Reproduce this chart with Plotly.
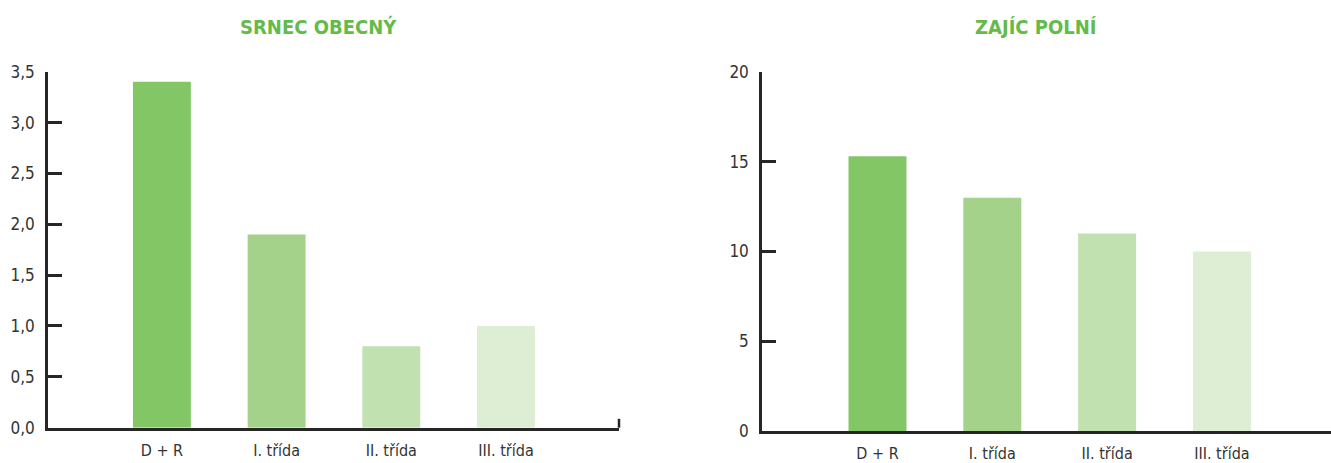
import plotly.graph_objects as go

# Hunting bag by category of hunting ground
categories = ["D + R", "I. třída", "II. třída", "III. třída"]
srnec_values = [3.4, 1.9, 0.8, 1.0]
zajic_values = [15.3, 13.0, 11.0, 10.0]
bar_colors = ["#82c666", "#a4d28a", "#c2e1b0", "#ddeed4"]

titles = ["SRNEC OBECNÝ", "ZAJÍC POLNÍ"]
srnec_ticks = [0, 0.5, 1.0, 1.5, 2.0, 2.5, 3.0, 3.5]
zajic_ticks = [0, 5, 10, 15, 20]

FONT = "Liberation Sans Narrow, DejaVu Sans Condensed, Arial Narrow, sans-serif"
AXIS_COLOR = "#262626"
TITLE_COLOR = "#64bb4a"

fig = go.Figure()
fig.add_trace(go.Bar(x=categories, y=srnec_values, marker=dict(color=bar_colors, line_width=0),
                     xaxis="x", yaxis="y", showlegend=False))
fig.add_trace(go.Bar(x=categories, y=zajic_values, marker=dict(color=bar_colors, line_width=0),
                     xaxis="x2", yaxis="y2", showlegend=False))

W, H = 1331, 463

def xdom(a, b):
    return [a / W, b / W]

def ydom(bottom_px, top_px):
    return [(H - bottom_px) / H, (H - top_px) / H]

common_x = dict(showline=True, linecolor=AXIS_COLOR, linewidth=2.5, ticks="", showgrid=False,
                zeroline=False, tickfont=dict(family=FONT, size=16, color="#333333"),
                ticklabelstandoff=6, fixedrange=True, automargin=False)
common_y = dict(showline=True, linecolor=AXIS_COLOR, linewidth=2.5, ticks="inside", ticklen=14,
                tickwidth=2.5, tickcolor=AXIS_COLOR, showgrid=False, zeroline=False,
                tickfont=dict(family=FONT, size=17, color="#333333"), ticklabelstandoff=7,
                fixedrange=True, automargin=False)

fig.update_layout(
    template="none",
    width=W, height=H,
    margin=dict(l=0, r=0, t=0, b=0, autoexpand=False),
    paper_bgcolor="white", plot_bgcolor="white",
    separators=", ",
    bargap=0.495,
    xaxis=dict(domain=xdom(48, 619), range=[-0.993, 3.985], anchor="y", **common_x),
    yaxis=dict(domain=ydom(427.7, 71.7), range=[0, 3.5], tickvals=srnec_ticks,
               tickformat=".1f", anchor="x", **common_y),
    xaxis2=dict(domain=xdom(762, 1331), range=[-1.006, 3.95], anchor="y2", **common_x),
    yaxis2=dict(domain=ydom(431, 72), range=[0, 20], tickvals=zajic_ticks,
                anchor="x2", **common_y),
)

# small upturned tick closing the left x axis
fig.add_shape(type="line", xref="x domain", yref="y domain", x0=1, x1=1, y0=0, y1=0.025,
              line=dict(color=AXIS_COLOR, width=2.5))

for text, xc in zip(titles, [318, 1036]):
    fig.add_annotation(text="<b>" + text + "</b>", xref="paper", yref="paper",
                       x=xc / W, y=(H - 27) / H, xanchor="center", yanchor="middle",
                       showarrow=False, font=dict(family=FONT, size=20, color=TITLE_COLOR))

fig.write_html("out.html", config={"displayModeBar": False})
